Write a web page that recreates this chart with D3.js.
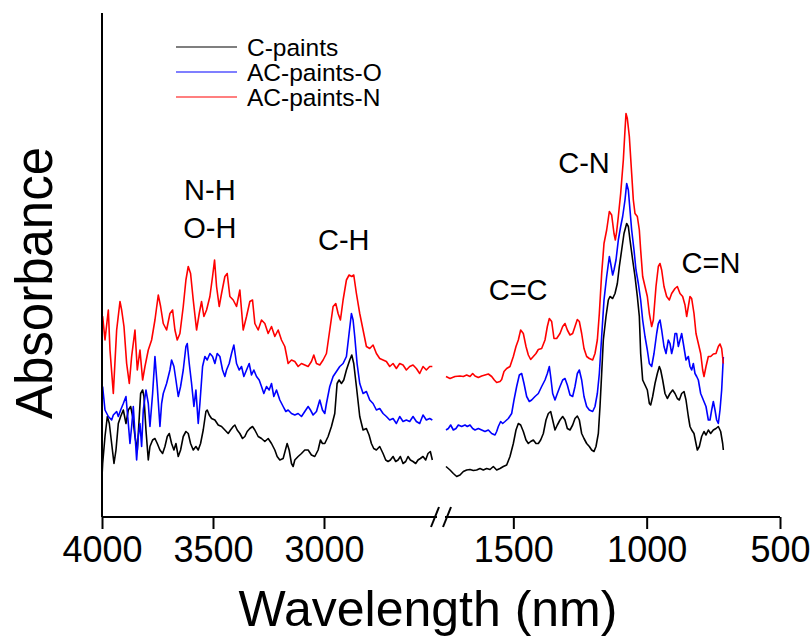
<!DOCTYPE html>
<html><head><meta charset="utf-8">
<script src="https://cdn.jsdelivr.net/npm/d3@7/dist/d3.min.js"></script>
<style>html,body{margin:0;padding:0;background:#fff;} text{font-family:"Liberation Sans",Arial,sans-serif;}</style>
</head><body><svg id="c" width="812" height="644"></svg>
<script>
// ---- data (wavenumber, absorbance a.u.) ----
const seriesNames = ["C-paints", "AC-paints-O", "AC-paints-N"];
const seriesColors = ["#000000", "#0000ff", "#ff0000"];
const leftTicks = [4000, 3500, 3000];
const rightTicks = [1500, 1000, 500];
const annotations = [
  {t:"N-H", w:3514, v:63.4, seg:"L"},
  {t:"O-H", w:3514, v:55.8, seg:"L"},
  {t:"C-H", w:2911, v:53.4, seg:"L"},
  {t:"C=C", w:1482, v:43.4, seg:"R"},
  {t:"C-N", w:1235, v:68.8, seg:"R"},
  {t:"C=N", w:759, v:48.8, seg:"R"}
];

const cLeft = [[4000,8.1],[3997,10.7],[3986.5,16.1],[3976,20.1],[3967,18.7],[3956.5,14.7],[3946,10.7],[3937,13.4],[3926.5,18.7],[3916,20.1],[3904,21.4],[3892,18.7],[3881.5,21.4],[3871,22.1],[3862,20.1],[3851.5,16.1],[3841,13.4],[3832,20.1],[3826,24.7],[3817,25.4],[3811,24.1],[3802,17.4],[3791.5,11.4],[3784,14.1],[3772,15.4],[3761.5,15.7],[3751,14.7],[3739,13.4],[3727,12.7],[3716.5,14.1],[3706,16.1],[3697,16.7],[3686.5,14.7],[3676,13.4],[3667,14.7],[3656.5,12.1],[3646,13.4],[3634,16.1],[3622,17.1],[3611.5,16.7],[3601,14.7],[3589,13.4],[3577,14.1],[3566.5,13.4],[3556,14.7],[3544,17.4],[3532,21.1],[3526,21.4],[3517,20.4],[3506.5,19.7],[3491.5,19.4],[3476.5,18.4],[3461.5,18.1],[3446.5,17.4],[3431.5,16.7],[3421,17.4],[3409,18.1],[3401.5,18.4],[3391,17.4],[3379,16.7],[3367,15.7],[3356.5,16.1],[3346,17.1],[3334,17.7],[3322,18.1],[3311.5,17.4],[3296.5,16.1],[3281.5,15.7],[3266.5,15.1],[3251.5,15.7],[3236.5,14.7],[3221.5,13.4],[3211,12.1],[3199,11.4],[3184,11.7],[3172,13.7],[3166,14.7],[3157,13.4],[3146.5,10.7],[3139,10.1],[3131.5,11.4],[3116.5,12.1],[3101.5,12.7],[3086.5,13.4],[3071.5,13.4],[3056.5,12.4],[3041.5,12.1],[3026.5,13.4],[3016,15.4],[3007,14.7],[2996.5,14.7],[2981.5,16.1],[2966.5,18.1],[2951.5,20.7],[2941,26.7],[2932,27.4],[2921.5,26.7],[2911,27.4],[2899,29.4],[2884,31.4],[2875,32.4],[2866,30.7],[2854,26.1],[2839,20.1],[2824,17.4],[2809,17.7],[2797,16.4],[2786.5,14.7],[2776,13.7],[2764,13.4],[2749,14.1],[2734,12.7],[2722,11.4],[2711.5,11.1],[2701,11.4],[2689,12.1],[2677,11.1],[2666.5,11.4],[2656,12.1],[2644,10.7],[2632,11.1],[2621.5,12.1],[2611,11.4],[2599,11.1],[2587,10.7],[2576.5,11.4],[2566,11.7],[2554,12.1],[2542,11.4],[2531.5,12.7],[2521,13.1],[2512,11.4]];

const oLeft = [[3997,26.1],[3994,24.7],[3986.5,21.4],[3971.5,20.1],[3956.5,19.4],[3949,20.4],[3934,21.1],[3926.5,20.1],[3916,21.4],[3904,22.7],[3892,24.1],[3881.5,18.7],[3874,14.7],[3866.5,18.1],[3859,22.1],[3851.5,16.7],[3844,11.4],[3836.5,16.1],[3829,18.7],[3821.5,14.1],[3814,21.4],[3802,25.4],[3791.5,22.7],[3784,18.1],[3772,24.7],[3761.5,32.1],[3751,26.1],[3739,18.1],[3731.5,22.7],[3724,24.7],[3709,26.7],[3694,29.4],[3686.5,31.4],[3676,30.1],[3667,27.4],[3656.5,24.1],[3646,26.1],[3634,29.4],[3622,34.1],[3616,34.7],[3607,30.7],[3596.5,26.7],[3586,22.1],[3577,25.4],[3566.5,18.7],[3559,22.7],[3547,30.1],[3536.5,32.1],[3526,31.4],[3514,32.7],[3502,32.1],[3491.5,30.7],[3481,32.7],[3469,32.1],[3457,29.4],[3446.5,28.1],[3439,29.4],[3427,30.7],[3416.5,32.7],[3406,34.4],[3394,30.7],[3382,29.4],[3371.5,30.1],[3361,28.1],[3349,29.4],[3337,30.7],[3326.5,28.4],[3316,29.4],[3304,28.1],[3292,27.4],[3281.5,26.1],[3271,24.7],[3259,26.1],[3247,25.4],[3236.5,26.7],[3226,24.1],[3214,25.4],[3199,23.4],[3184,22.1],[3172,21.1],[3161.5,21.4],[3146.5,20.7],[3131.5,20.4],[3116.5,20.7],[3101.5,20.1],[3086.5,21.1],[3071.5,22.1],[3061,21.4],[3049,20.4],[3034,21.1],[3019,23.4],[3007,21.4],[2996.5,20.7],[2989,22.7],[2974,26.1],[2959,28.1],[2944,29.1],[2929,30.1],[2914,30.7],[2899,32.1],[2887,36.7],[2876.5,40.7],[2869,39.4],[2861.5,36.1],[2851,30.7],[2839,26.7],[2824,24.7],[2809,25.1],[2794,23.4],[2779,22.7],[2764,21.4],[2749,21.7],[2734,20.7],[2719,20.1],[2704,19.4],[2689,19.7],[2674,18.7],[2659,20.1],[2644,19.1],[2629,19.4],[2614,19.1],[2599,20.1],[2584,19.1],[2569,18.7],[2554,20.4],[2539,19.4],[2524,19.7],[2512,19.4]];

const nLeft = [[3999,38.0],[3997,40.1],[3986.5,35.4],[3971.5,41.4],[3964,33.4],[3949,24.7],[3934,37.4],[3919,43.1],[3911.5,41.4],[3901,38.1],[3889,30.7],[3877,26.7],[3866.5,32.1],[3851.5,37.4],[3841,29.4],[3829,33.4],[3817,27.4],[3806.5,30.1],[3791.5,33.4],[3776.5,35.4],[3761.5,39.4],[3746.5,44.4],[3736,42.1],[3724,38.7],[3709,37.4],[3694,40.7],[3682,41.4],[3671.5,37.4],[3661,35.4],[3649,36.7],[3634,42.1],[3622,47.4],[3611.5,50.1],[3601,48.7],[3589,43.4],[3574,37.4],[3562,40.7],[3551.5,43.1],[3541,40.1],[3529,41.4],[3514,44.1],[3502,48.1],[3493,51.4],[3484,46.1],[3472,42.1],[3461.5,44.7],[3446.5,48.1],[3436,48.7],[3424,44.1],[3409,43.4],[3394,42.1],[3379,45.4],[3364,37.4],[3349,40.1],[3334,43.1],[3322,43.4],[3311.5,38.7],[3296.5,37.4],[3281.5,39.4],[3266.5,38.7],[3251.5,36.7],[3236.5,38.1],[3221.5,36.1],[3206.5,37.4],[3191.5,35.4],[3176.5,34.1],[3161.5,30.7],[3146.5,31.4],[3131.5,31.1],[3116.5,30.1],[3101.5,30.7],[3086.5,30.4],[3071.5,30.1],[3056.5,31.1],[3046,32.4],[3034,30.7],[3019,30.4],[3004,31.4],[2989,32.7],[2974,37.4],[2959,42.1],[2947,42.7],[2936.5,40.7],[2926,39.4],[2914,43.4],[2899,47.4],[2887,48.4],[2875,48.1],[2866,48.4],[2854,44.7],[2839,40.7],[2824,37.4],[2809,34.1],[2794,33.7],[2779,34.4],[2764,32.7],[2749,31.7],[2734,31.4],[2719,31.1],[2704,30.1],[2689,30.7],[2674,29.7],[2659,30.7],[2644,30.4],[2629,29.4],[2614,30.1],[2599,30.4],[2584,29.7],[2569,28.7],[2554,30.1],[2539,29.4],[2524,30.1],[2512,30.1]];

const cRight = [[1752.5,10.1],[1737.5,9.4],[1725,8.7],[1712.5,8.1],[1700,8.4],[1687.5,9.1],[1675,9.4],[1662.5,9.5],[1650,9.3],[1637.5,9.4],[1625,9.7],[1612.5,9.4],[1600,9.7],[1587.5,9.5],[1575,10.1],[1562.5,9.4],[1550,9.7],[1537.5,10.1],[1525,10.4],[1512.5,12.1],[1500,14.7],[1490,17.4],[1481.25,18.7],[1472.5,18.4],[1462.5,17.1],[1452.5,15.4],[1443.75,14.7],[1435,15.1],[1425,15.4],[1415,14.7],[1406.25,14.7],[1397.5,15.4],[1387.5,16.7],[1377.5,19.4],[1368.75,20.7],[1360,21.1],[1352.5,19.4],[1343.75,17.4],[1335,18.4],[1325,19.4],[1315,20.1],[1306.25,19.4],[1297.5,17.7],[1287.5,17.4],[1277.5,18.4],[1268.75,19.7],[1260,20.2],[1252.5,19.4],[1243.75,16.7],[1235,15.7],[1225,14.7],[1215,14.1],[1206.25,13.4],[1197.5,13.1],[1190,14.1],[1181.25,16.7],[1175,22.1],[1168.75,28.7],[1162.5,35.4],[1152.5,40.1],[1143.75,43.4],[1137.5,44.1],[1127.5,43.7],[1118.75,44.7],[1110,46.7],[1102.5,50.1],[1093.75,53.4],[1085,56.7],[1075,58.7],[1068.75,58.1],[1062.5,55.4],[1052.5,51.4],[1043.75,48.1],[1035,44.1],[1027.5,40.1],[1022.5,32.7],[1015,27.4],[1006.25,26.4],[997.5,25.4],[990,22.7],[985,22.4],[977.5,24.1],[968.75,26.7],[960,28.7],[952.5,30.1],[947.5,29.4],[940,27.4],[931.25,24.7],[922.5,23.7],[912.5,24.7],[902.5,25.4],[893.75,24.7],[885,23.7],[877.5,23.4],[868.75,24.7],[860,25.1],[852.5,23.4],[843.75,20.1],[837.5,18.1],[831.25,17.4],[822.5,16.7],[815,14.7],[810,13.4],[802.5,14.1],[793.75,16.1],[785,17.1],[777.5,16.4],[768.75,17.4],[760,16.7],[750,17.4],[740,17.7],[731.25,18.1],[722.5,17.1],[715,14.7],[712.5,13.4]];

const oRight = [[1752.5,17.4],[1743.75,17.7],[1735,18.4],[1725,17.4],[1715,17.7],[1706.25,18.4],[1693.75,18.1],[1681.25,18.4],[1672.5,18.1],[1662.5,18.4],[1652.5,17.7],[1643.75,17.4],[1631.25,17.7],[1618.75,17.4],[1606.25,17.1],[1593.75,17.4],[1581.25,16.7],[1568.75,16.4],[1562.5,17.1],[1556.25,18.1],[1547.5,19.1],[1540,18.7],[1531.25,19.1],[1518.75,19.7],[1506.25,20.7],[1497.5,23.4],[1487.5,26.1],[1477.5,28.4],[1468.75,28.7],[1460,26.7],[1450,24.1],[1440,23.1],[1431.25,23.4],[1418.75,24.1],[1406.25,24.7],[1393.75,26.1],[1381.25,27.4],[1372.5,28.7],[1365,30.1],[1360,28.1],[1352.5,24.7],[1343.75,23.4],[1335,24.7],[1325,26.1],[1315,27.4],[1306.25,27.7],[1297.5,26.4],[1287.5,24.4],[1277.5,24.1],[1268.75,26.1],[1260,28.7],[1252.5,29.4],[1243.75,27.4],[1235,24.1],[1225,22.1],[1215,21.4],[1202.5,21.1],[1193.75,22.1],[1185,24.7],[1177.5,28.7],[1168.75,36.1],[1160,43.4],[1150,48.1],[1140,52.1],[1135,50.7],[1127.5,48.4],[1122.5,49.4],[1115,51.4],[1106.25,55.4],[1097.5,58.1],[1090,60.1],[1081.25,63.4],[1075,66.7],[1068.75,65.4],[1062.5,61.4],[1056.25,57.4],[1047.5,53.4],[1040,49.4],[1031.25,46.7],[1022.5,43.4],[1015,39.4],[1006.25,36.1],[997.5,33.4],[990,30.7],[981.25,30.1],[972.5,32.7],[962.5,36.7],[956.25,38.7],[950,39.4],[943.75,37.4],[935,34.1],[927.5,32.7],[918.75,35.4],[912.5,34.7],[906.25,32.7],[900,34.1],[893.75,36.7],[887.5,36.7],[881.25,34.1],[875,35.4],[868.75,36.7],[862.5,34.7],[852.5,31.4],[843.75,32.1],[837.5,30.1],[831.25,29.4],[825,30.7],[818.75,28.7],[812.5,28.1],[806.25,27.4],[797.5,24.7],[787.5,23.4],[777.5,22.1],[768.75,19.4],[762.5,19.4],[756.25,21.4],[750,23.1],[743.75,21.4],[737.5,19.4],[731.25,18.7],[725,21.4],[718.75,25.4],[712.5,32.0]];

const nRight = [[1752.5,28.1],[1737.5,27.7],[1718.75,28.1],[1700,28.2],[1687.5,28.1],[1675,28.4],[1662.5,28.1],[1652.5,28.7],[1643.75,28.2],[1631.25,27.9],[1618.75,28.2],[1606.25,28.4],[1593.75,28.6],[1581.25,28.1],[1571.25,27.4],[1562.5,26.9],[1550,27.1],[1543.75,27.5],[1535,29.1],[1525,29.7],[1512.5,30.1],[1500,32.1],[1490,34.1],[1481.25,35.4],[1472.5,37.4],[1462.5,36.7],[1452.5,34.1],[1443.75,32.4],[1435,31.5],[1425,32.1],[1415,32.7],[1406.25,33.5],[1393.75,33.7],[1381.25,35.4],[1372.5,38.1],[1365,39.7],[1356.25,39.1],[1347.5,35.7],[1337.5,35.7],[1325,36.7],[1315,38.1],[1306.25,38.7],[1297.5,37.4],[1287.5,36.4],[1277.5,36.7],[1268.75,38.1],[1260,39.5],[1252.5,39.1],[1243.75,36.7],[1235,33.7],[1225,32.1],[1215,31.7],[1202.5,31.4],[1193.75,32.7],[1185,35.4],[1177.5,40.7],[1168.75,48.7],[1160,54.7],[1150,57.4],[1140,61.1],[1131.25,60.4],[1122.5,56.7],[1117.5,55.4],[1112.5,57.1],[1106.25,60.1],[1097.5,64.7],[1087.5,71.4],[1081.25,77.4],[1077.5,80.7],[1072.5,79.7],[1065,76.1],[1056.25,68.7],[1050,63.4],[1043.75,60.7],[1035,60.1],[1027.5,57.4],[1022.5,53.4],[1015,48.1],[1006.25,46.1],[997.5,44.1],[990,40.7],[981.25,38.1],[975,39.4],[965,46.1],[956.25,50.1],[950,50.7],[943.75,49.4],[935,46.1],[925,44.1],[915,43.4],[906.25,44.7],[893.75,45.7],[885,46.1],[875,44.7],[865,44.1],[856.25,42.4],[850,40.1],[843.75,42.1],[837.5,44.1],[831.25,43.7],[822.5,40.7],[815,36.7],[806.25,34.7],[797.5,32.7],[790,29.4],[785,28.1],[777.5,30.1],[768.75,32.1],[760,32.1],[750,32.6],[740,32.7],[731.25,34.1],[725,34.6],[718.75,33.7],[712.5,30.7]];

const leftData = [cLeft, oLeft, nLeft];
const rightData = [cRight, oRight, nRight];

// ---- layout ----
const svg = d3.select("#c");
const axisY = 517, topY = 13;
const xL = d3.scaleLinear().domain([4000, 2500]).range([102, 435]);
const xR = d3.scaleLinear().domain([1760, 500]).range([444, 780]);
const y = d3.scaleLinear().domain([0, 100.8]).range([axisY, topY]);

// curves
const lineL = d3.line().x(d => xL(d[0])).y(d => y(d[1]));
const lineR = d3.line().x(d => xR(d[0])).y(d => y(d[1]));
[0,1,2].forEach(i => {
  svg.append("path").attr("d", lineL(leftData[i])).attr("fill","none")
    .attr("stroke", seriesColors[i]).attr("stroke-width", 1.6).attr("stroke-linejoin","round");
  svg.append("path").attr("d", lineR(rightData[i])).attr("fill","none")
    .attr("stroke", seriesColors[i]).attr("stroke-width", 1.6).attr("stroke-linejoin","round");
});

// axes
const fmt = d3.format("d");
const axL = d3.axisBottom(xL).tickValues(leftTicks).tickFormat(fmt).tickSize(12).tickPadding(7).tickSizeOuter(0);
const axR = d3.axisBottom(xR).tickValues(rightTicks).tickFormat(fmt).tickSize(12).tickPadding(7).tickSizeOuter(0);
[axL, axR].forEach(ax => {
  const g = svg.append("g").attr("transform", `translate(0,${axisY})`).call(ax);
  g.select(".domain").remove();
  g.selectAll(".tick line").attr("stroke","#000").attr("stroke-width",2);
  g.selectAll(".tick text").attr("font-size", 36).attr("fill","#000")
    .attr("font-family","'Liberation Sans',Arial,sans-serif");
});
// axis lines
svg.append("line").attr("x1", 102).attr("x2", 102).attr("y1", topY).attr("y2", axisY)
  .attr("stroke","#000").attr("stroke-width",2);
svg.append("line").attr("x1", xL.range()[0]).attr("x2", 437).attr("y1", axisY).attr("y2", axisY)
  .attr("stroke","#000").attr("stroke-width",2);
svg.append("line").attr("x1", 445).attr("x2", xR.range()[1]).attr("y1", axisY).attr("y2", axisY)
  .attr("stroke","#000").attr("stroke-width",2);
// break marks
[[431,527,439,507],[443,527,451,507]].forEach(s => {
  svg.append("line").attr("x1",s[0]).attr("y1",s[1]).attr("x2",s[2]).attr("y2",s[3])
    .attr("stroke","#000").attr("stroke-width",2);
});

// axis titles
svg.append("text").attr("x", 428).attr("y", 626).attr("text-anchor","middle")
  .attr("font-size", 50).text("Wavelength (nm)");
svg.append("text").attr("transform","translate(52,283) rotate(-90)").attr("text-anchor","middle")
  .attr("font-size", 51).text("Absorbance");

// annotations
annotations.forEach(a => {
  const sx = a.seg === "L" ? xL(a.w) : xR(a.w);
  svg.append("text").attr("x", sx).attr("y", y(a.v)).attr("text-anchor","middle")
    .attr("font-size", 29).text(a.t);
});

// legend
const legY = [47, 72, 97];
seriesNames.forEach((n, i) => {
  svg.append("line").attr("x1",176).attr("x2",237).attr("y1",legY[i]).attr("y2",legY[i])
    .attr("stroke", seriesColors[i]).attr("stroke-width",1.2);
  svg.append("text").attr("x",247).attr("y",legY[i]+8.5).attr("font-size",24.5).text(n);
});
</script></body></html>
